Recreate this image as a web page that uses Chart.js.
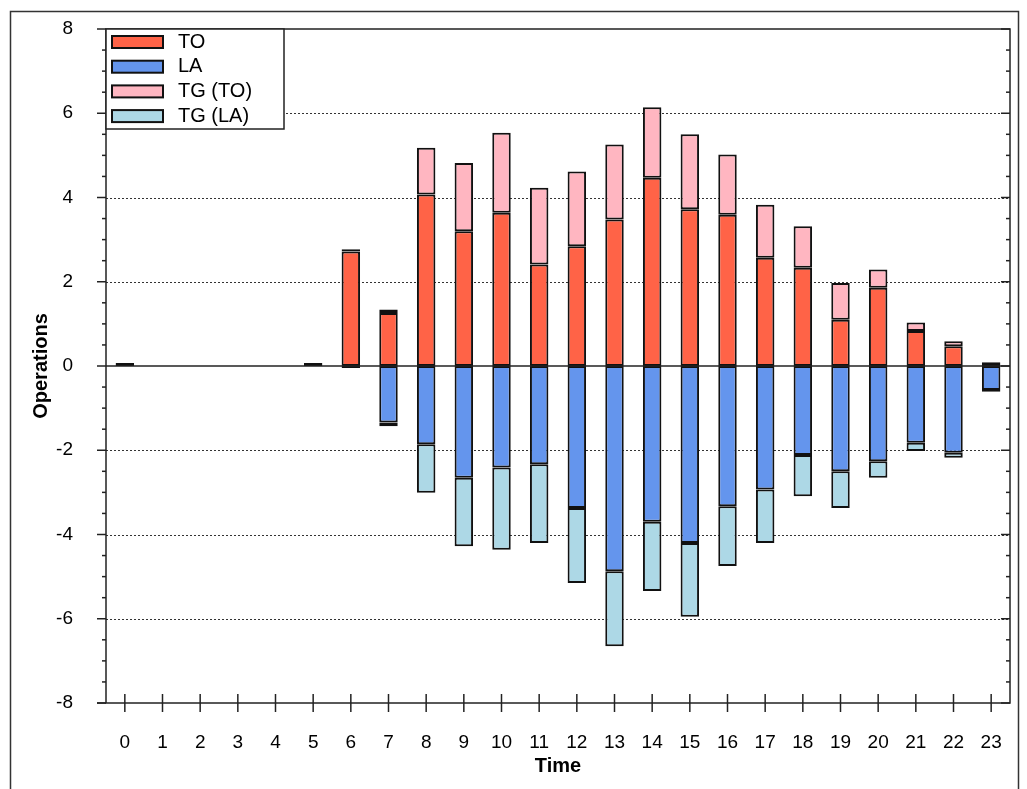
<!DOCTYPE html>
<html>
<head>
<meta charset="utf-8">
<script src="https://cdn.jsdelivr.net/npm/chart.js@4.4.1/dist/chart.umd.min.js"></script>
<style>
  html, body { margin: 0; padding: 0; background: #fff; }
  canvas { display: block; }
</style>
</head>
<body>
<canvas id="myChart" width="1027" height="789"></canvas>
<script>
const hours = ['0','1','2','3','4','5','6','7','8','9','10','11','12','13','14','15','16','17','18','19','20','21','22','23'];
// take-offs and landings per hour, touch-and-go parts stacked on top/below
const takeOffs  = [0.07, null, null, null, null, 0.07, 2.72, 1.26, 4.07, 3.20, 3.64, 2.41, 2.84, 3.48, 4.47, 3.72, 3.59, 2.57, 2.33, 1.10, 1.86, 0.83, 0.47, 0.05];
const landings  = [null, null, null, null, null, null, -0.05, -1.34, -1.86, -2.65, -2.41, -2.33, -3.37, -4.87, -3.70, -4.20, -3.33, -2.93, -2.11, -2.50, -2.26, -1.82, -2.06, -0.57];
const tgTakeOff = [null, null, null, null, null, null, 0.05, 0.08, 1.11, 1.62, 1.90, 1.82, 1.78, 1.78, 1.67, 1.78, 1.43, 1.26, 0.99, 0.87, 0.43, 0.20, 0.12, 0.04];
const tgLanding = [null, null, null, null, null, null, null, -0.09, -1.15, -1.63, -1.95, -1.87, -1.78, -1.78, -1.64, -1.75, -1.42, -1.27, -0.98, -0.87, -0.39, -0.20, -0.12, -0.04];
const gridValues = [-6, -4, -2, 2, 4, 6];

const FONT = '"Liberation Sans", Arial, sans-serif';

function line(c, x1, y1, x2, y2) {
    c.beginPath();
    c.moveTo(x1, y1);
    c.lineTo(x2, y2);
    c.stroke();
}

const framePlugin = {
    id: 'framePlugin',
    beforeDraw(chart) {
        const c = chart.ctx, a = chart.chartArea, y = chart.scales.y;
        c.save();
        c.fillStyle = '#fff';
        c.fillRect(0, 0, chart.width, chart.height);
        // dotted grid
        c.strokeStyle = '#333';
        c.lineWidth = 1;
        c.setLineDash([2, 2]);
        gridValues.forEach(v => {
            const py = Math.round(y.getPixelForValue(v)) + 0.5;
            line(c, a.left, py, a.right, py);
        });
        c.restore();
    },
    afterDatasetsDraw(chart) {
        const c = chart.ctx, a = chart.chartArea, x = chart.scales.x, y = chart.scales.y;
        c.save();
        c.strokeStyle = '#222';
        c.lineWidth = 1.5;
        // zero line
        const y0 = y.getPixelForValue(0);
        line(c, a.left, y0, a.right, y0);
        // plot box
        c.strokeRect(a.left, a.top, a.right - a.left, a.bottom - a.top);
        line(c, a.left - 9, a.bottom, a.left, a.bottom);
        // y ticks (major every 2, minor every 0.5)
        for (let v = -8; v <= 8; v += 0.5) {
            const py = y.getPixelForValue(v);
            const len = v % 2 === 0 ? 9 : 4;
            line(c, a.left - len, py, a.left, py);
            line(c, a.right - len, py, a.right, py);
        }
        // x ticks crossing the axis
        hours.forEach((h, i) => {
            const px = x.getPixelForTick(i);
            line(c, px, a.bottom - 9, px, a.bottom + 9);
        });

        // legend box in the top-left corner of the plot
        const lx = a.left, ly = a.top, lw = 178, lh = 100;
        c.fillStyle = '#fff';
        c.fillRect(lx, ly, lw, lh);
        c.strokeRect(lx, ly, lw, lh);
        c.font = '20px ' + FONT;
        c.textBaseline = 'middle';
        chart.data.datasets.forEach((ds, i) => {
            const ry = ly + 13 + i * 24.7;
            c.fillStyle = ds.backgroundColor;
            c.fillRect(lx + 6, ry - 6, 51, 12);
            c.lineWidth = 2;
            c.strokeStyle = '#111';
            c.strokeRect(lx + 6, ry - 6, 51, 12);
            c.fillStyle = '#000';
            c.fillText(ds.label, lx + 72, ry);
        });
        c.restore();
    },
    afterDraw(chart) {
        const c = chart.ctx;
        c.save();
        c.strokeStyle = '#333';
        c.lineWidth = 1.5;
        c.strokeRect(10.5, 11.5, 1008, 800);
        c.restore();
    }
};

const barStyle = {
    borderColor: '#111',
    borderWidth: 2,
    borderSkipped: false,
    barPercentage: 0.49,
    categoryPercentage: 1.0,
    stack: 'ops'
};

const ctx = document.getElementById('myChart').getContext('2d');
const myChart = new Chart(ctx, {
    type: 'bar',
    data: {
        labels: hours,
        datasets: [
            Object.assign({ label: 'TO', data: takeOffs, backgroundColor: '#FF6347' }, barStyle),
            Object.assign({ label: 'LA', data: landings, backgroundColor: '#6495ED' }, barStyle),
            Object.assign({ label: 'TG (TO)', data: tgTakeOff, backgroundColor: '#FFB6C1' }, barStyle),
            Object.assign({ label: 'TG (LA)', data: tgLanding, backgroundColor: '#ADD8E6' }, barStyle)
        ]
    },
    options: {
        responsive: false,
        animation: false,
        devicePixelRatio: 1,
        layout: { padding: { left: 0, top: 29, right: 17, bottom: 0 } },
        plugins: {
            legend: { display: false },
            tooltip: { enabled: false }
        },
        scales: {
            x: {
                type: 'category',
                offset: true,
                stacked: true,
                grid: { display: false },
                border: { display: false },
                ticks: { color: '#000', padding: 20, font: { family: FONT, size: 19 } },
                title: {
                    display: true,
                    text: 'Time',
                    color: '#000',
                    font: { family: FONT, size: 20, weight: 'bold' },
                    padding: { top: 0, bottom: 11 }
                },
                afterFit(scale) { scale.height = 86; }
            },
            y: {
                min: -8,
                max: 8,
                stacked: true,
                grid: { display: false },
                border: { display: false },
                ticks: { stepSize: 2, color: '#000', padding: 25, font: { family: FONT, size: 19 } },
                title: {
                    display: true,
                    text: 'Operations',
                    color: '#000',
                    font: { family: FONT, size: 20, weight: 'bold' },
                    padding: { top: 29, bottom: 0 }
                },
                afterFit(scale) {
                    scale.width = 106;
                    scale.paddingTop = 12;
                    scale.paddingBottom = 12;
                }
            }
        }
    },
    plugins: [framePlugin]
});
</script>
</body>
</html>
